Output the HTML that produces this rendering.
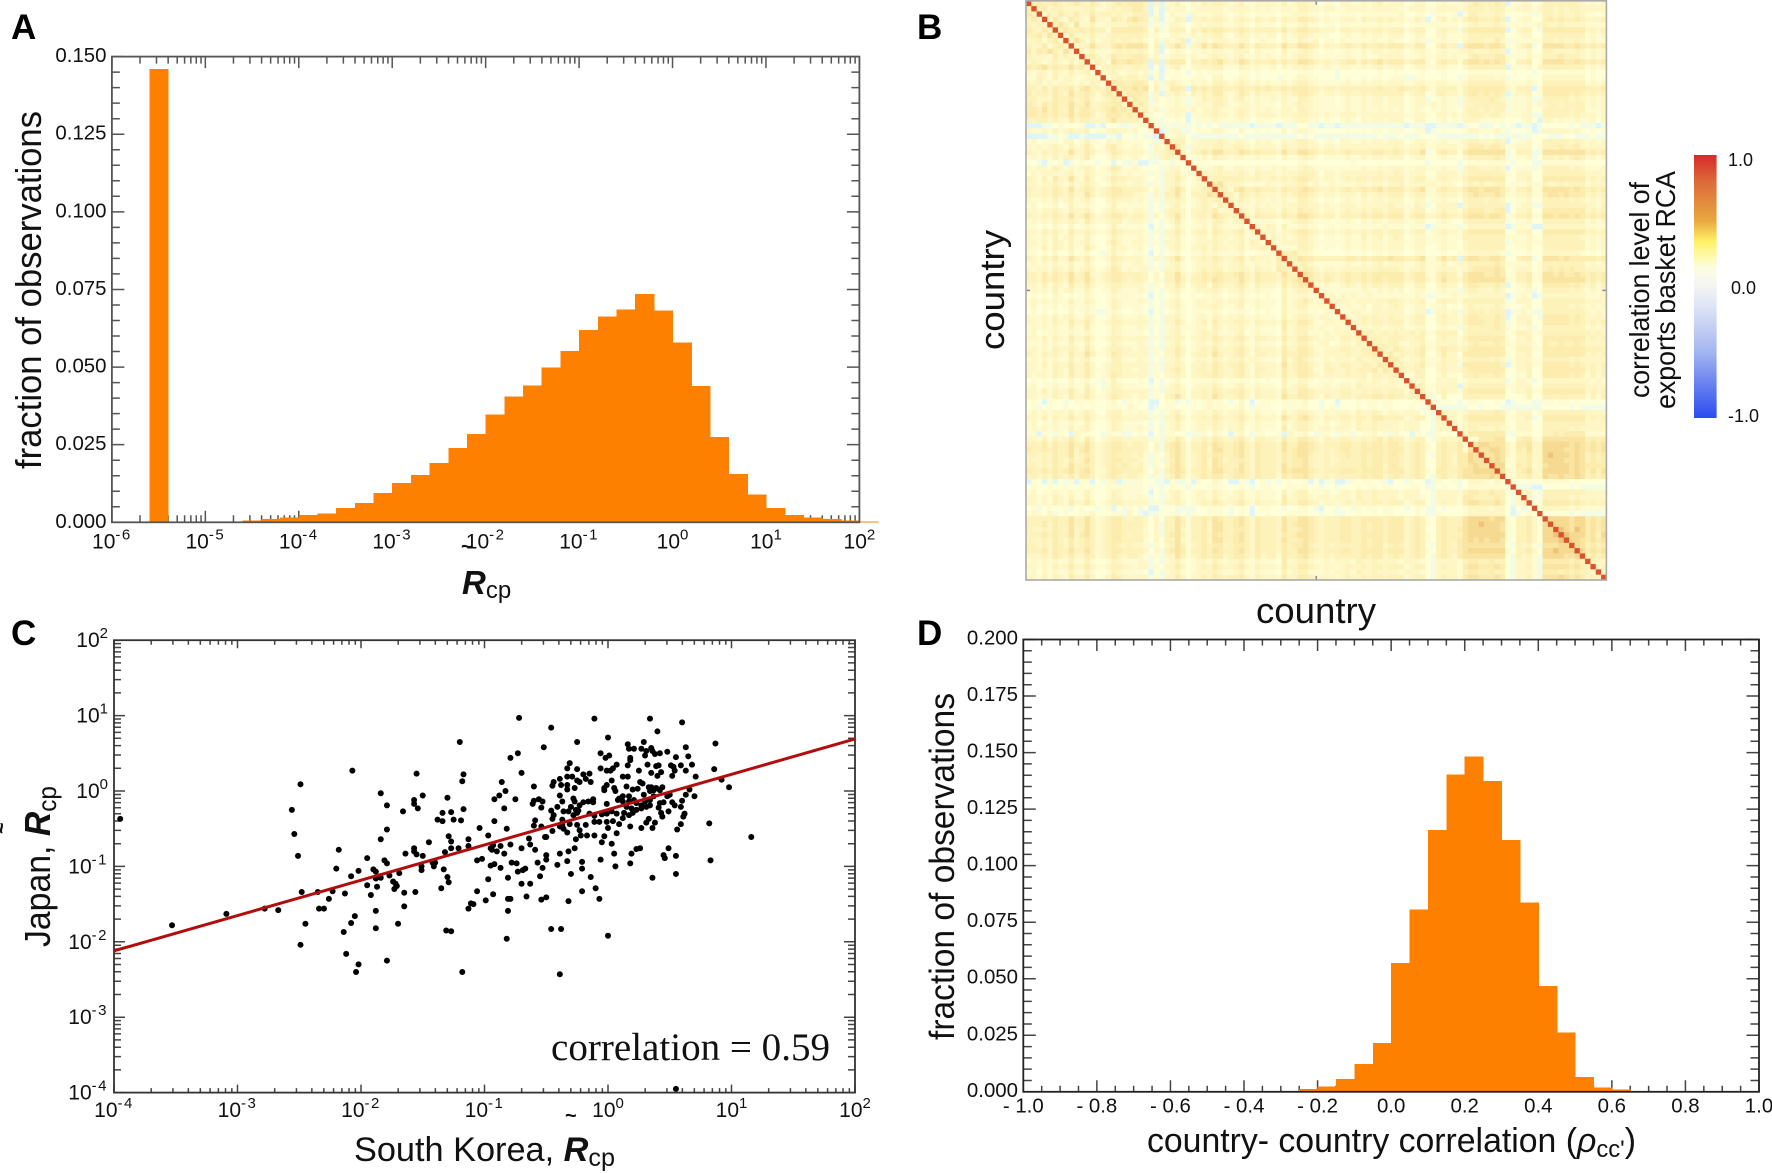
<!DOCTYPE html>
<html lang="en">
<head>
<meta charset="utf-8">
<title>Country export basket correlation figure</title>
<style>
html,body{margin:0;padding:0;background:#fff;}
svg{display:block;}
text{font-family:"Liberation Sans",Arial,sans-serif;fill:#111;}
.panel-letter{font-size:35px;font-weight:bold;fill:#000;}
.rcp{font-weight:bold;font-style:italic;}
</style>
</head>
<body>
<svg id="figure" xmlns="http://www.w3.org/2000/svg" width="1772" height="1173" viewBox="0 0 1772 1173">
  <rect x="0" y="0" width="1772" height="1173" fill="#fff"/>
  <g id="panelA"></g>
  <g id="panelB"></g>
  <g id="panelC"></g>
  <g id="panelD"></g>

  <text class="panel-letter" x="11" y="39">A</text>
  <text class="panel-letter" x="917" y="39">B</text>
  <text class="panel-letter" x="11" y="645">C</text>
  <text class="panel-letter" x="917" y="645">D</text>

  <text transform="translate(41,469) rotate(-90)" font-size="36" textLength="358" lengthAdjust="spacingAndGlyphs">fraction of observations</text>
  <text x="461" y="553" font-size="20" font-weight="bold">~</text>
  <text x="462" y="594" font-size="33"><tspan class="rcp">R</tspan><tspan font-size="24" dy="4">cp</tspan></text>

  <text transform="translate(1004,350) rotate(-90)" font-size="34" textLength="120" lengthAdjust="spacingAndGlyphs">country</text>
  <text x="1256" y="623" font-size="36" textLength="120" lengthAdjust="spacingAndGlyphs">country</text>
  <text transform="translate(1649,398) rotate(-90)" font-size="28" textLength="216" lengthAdjust="spacingAndGlyphs">correlation level of</text>
  <text transform="translate(1675,409) rotate(-90)" font-size="28" textLength="238" lengthAdjust="spacingAndGlyphs">exports basket RCA</text>

  <text transform="translate(50,947) rotate(-90)" font-size="36" textLength="161" lengthAdjust="spacingAndGlyphs">Japan, <tspan class="rcp">R</tspan><tspan font-size="26" dy="6">cp</tspan></text>
  <text transform="translate(8,834) rotate(-90)" font-size="20" font-weight="bold">~</text>
  <text x="565" y="1122" font-size="20" font-weight="bold">~</text>
  <text x="354" y="1161" font-size="34" textLength="261" lengthAdjust="spacingAndGlyphs">South Korea, <tspan class="rcp">R</tspan><tspan font-size="25" dy="5">cp</tspan></text>
  <text x="551" y="1060" font-size="39" style="font-family:'Liberation Serif',serif" textLength="279" lengthAdjust="spacingAndGlyphs">correlation = 0.59</text>

  <text transform="translate(954,1040) rotate(-90)" font-size="35" textLength="347" lengthAdjust="spacingAndGlyphs">fraction of observations</text>
  <text x="1147" y="1152" font-size="34" textLength="489" lengthAdjust="spacingAndGlyphs">country- country correlation (<tspan font-style="italic">ρ</tspan><tspan font-size="24" dy="5">cc'</tspan><tspan dy="-5">)</tspan></text>
</svg>

<script>
// ---------- Panel A data ----------
const rcaBinStartExponent = [-5.6,-5.0,-4.8,-4.6,-4.4,-4.2,-4.0,-3.8,-3.6,-3.4,-3.2,-3.0,-2.8,-2.6,-2.4,-2.2,-2.0,-1.8,-1.6,-1.4,-1.2,-1.0,-0.8,-0.6,-0.4,-0.2,0.0,0.2,0.4,0.6,0.8,1.0,1.2,1.4,1.6,1.8,2.0];
const rcaFraction = [0.146,0.0002,0.0002,0.0005,0.001,0.0015,0.0024,0.0028,0.0046,0.0062,0.0094,0.0126,0.0152,0.0191,0.0239,0.0284,0.0348,0.0406,0.0440,0.0499,0.0552,0.0619,0.0663,0.0685,0.0736,0.0682,0.0579,0.0439,0.0275,0.0155,0.0090,0.0046,0.0023,0.0016,0.0010,0.0005,0.0003];
const rcaXTickExponents = [-6,-5,-4,-3,-2,-1,0,1,2];
const rcaYTickValues = [0,0.025,0.05,0.075,0.1,0.125,0.15];
const rcaYTickLabels = ['0.000','0.025','0.050','0.075','0.100','0.125','0.150'];

// ---------- Panel B data: lower triangle of the correlation matrix, one digit level per cell ----------
const correlationLevelValues = [-0.05,0.03,0.1,0.15,0.2,0.25,0.3,0.35,0.4,0.5];
const diagonalCorrelation = 1.0;
const correlationLowerTriangle = [
"6","65","564","5454","65465","556475","4453564","54463564","646575474","5444364544",
"4543454353 5","6567565575 64","4344354353 453","3354353443 3444","4453434443 43543","5546465564 675546","6455465475 5653565","5544465564 56434565","6546565575 574455664","6657565474 6654567665",
"6656565575 6653466656 5","5455454364 5544457555 54","0001123222 3001022111 333","4334353454 4523345443 4223","0000112100 1000011022 12110","3423332442 3533243433 332313","4343454353 4642356433 4321435","5435454474 4653346544 44314456","3434353553 4632235433 432314544","2210223012 3221220211 3001122122",
"4344354343 4542346533 4322213442 2","3434443453 3543335434 3331314453 33","5435364474 3642346554 4432314464 235","4434454353 4543235443 4431314453 2344","5445465474 5653456655 5542414575 24456","5445465464 4753456655 4431415574 255576","4334353453 4532245444 3431314454 2345455","3423342353 3432235333 3331213453 23454354","4434454354 4532345443 4431214554 244546344","5445465474 5753456654 5541424574 2455476545",
"3434354454 3643345534 4431213463 2344355434 5","3323243242 3432235333 3320212353 2334354333 43","4435454364 4543346544 4431314464 2455365445 634","4334353453 3532235433 3431213453 2344354434 5334","4434354353 4532246433 4431314453 2344454344 53543","4335354353 3642235443 3421213453 2445354434 534454","3323242242 3422135332 3320212342 2334343333 4223333","5435464475 4642346544 4431414574 2445465445 63544436","3434343353 3532235433 4431213453 2344454344 533434355","4344354353 4542346534 3441314453 2345455344 5435443654",
"5546465574 5743456655 5542425574 3456566556 7546555475 5","5546565475 5753456654 5542415575 3556576555 7546555465 67","4435354364 4643345544 4431324464 2455365445 6435444364 566","3434353453 3532335433 3431213453 2344454344 5334333253 4554","2323243232 3432234333 3320212342 2323343233 4323232253 34433","3434343353 3542235433 3431213453 2344344344 5334333253 456434","3423342343 3432235433 3321213453 2344454334 5234333253 4553344","2323232242 3431134322 3320212343 2333343233 3323232253 34433243","4334353453 3542235433 3431214453 2344354344 5334333253 455434433","4434354364 4642345544 4441314464 2345364445 5435444364 4665334434",
"3434343353 3632235433 3431213453 3344354344 5334333263 4554343343 4","3423343343 3432235433 3321213453 2345453334 5234333253 4553334344 43","4435354364 4642345544 4441314454 2445465445 6435544364 4665434435 545","3334343353 3532235433 3431213453 2344354344 5334333253 4554344234 4354","4434354454 3642345544 3441314464 2345464445 6435444364 4665334445 54455","5435454364 4753346544 4441324464 2455475445 6435544365 5665434444 544556","3434343353 4532235533 3431213453 2344354344 5344333263 5654334344 4354454","4435354464 4642345544 4441314454 2445465455 6435444374 5665435445 54455466","4434354364 4643345544 3441314564 2455465445 6435544364 5665335544 545556465","4344354364 4642346544 4441324454 2445565445 6435444364 4665434444 5445355455",
"2323232242 3422135322 2320212342 2333343233 3323232253 3443233323 3344344344 3","3423343343 3532135433 3321213453 2344454334 5334333253 4553334334 4354444444 34","4435354464 3642345544 4441314454 2445465455 6435444364 4665444445 5445455455 535","4434354364 4643346544 3441324574 2445475445 6435444375 5665435445 5455566565 5455","2320322123 3332234213 2320023312 1323433212 4202332233 3342212202 2232332332 22233","2312322322 3232233324 3220123322 2323433323 4213332233 3332212312 2232332332 223213","3434344353 4542245533 3431213453 2344354344 5334333253 4554334344 4354454344 3444221","4435354464 4643345544 4441314464 2445465445 6435444375 4675435445 5455466555 53455215","3423343343 3532235433 3321213453 2344454344 5334333253 4554334234 4354454444 344422144","3434343353 4532235433 3431213453 2344354344 5234333263 4554344344 4354454444 3444221444",
"3303213204 3322133311 2320213322 1133243203 4213322304 3342133213 3123342314 2203211323 2","4435354464 3642345544 4441314464 2445465445 6435544364 4665435445 5445456465 5345521454 44","5556465575 5753456654 5542415675 3556576556 7546555475 5776545556 6556566566 5456532565 563","6556565574 6753456655 5542415675 3556477556 7546555475 6776545456 6556666566 6456532565 5637","5545465574 5653456555 4531324675 3456566556 7546555465 6775445455 6556566566 5456521565 46687","5445465464 5753456655 5431314575 3456476455 6546555465 6675445445 5556566566 5456522565 466877","5545465475 5653456565 4531324675 3456476555 7546555475 6675445455 5556566466 5456522565 4667877","6556565675 6753356655 5532415676 3556577556 7546555476 7776545556 6656666566 6456532665 56778888","5545465464 6653456545 5431314575 3456566456 6546555365 6675445455 5556566456 5456521565 467777787","0320302130 3302134013 1322110311 2032243200 3102312123 2230201300 1323323102 2132201322 3124443243",
"2322322322 3232233333 3321212322 1222333222 3212332223 3332212212 2232332332 2233211232 2123333333 2","3423343343 3532235433 3320213453 2344354334 5334333253 4553334234 4354454444 3444221444 4356655655 21","4434354353 3532235433 3431213453 2344354344 5334333263 4554344344 4354454444 3444321444 4366555565 214","4434354364 4642345544 4441314454 2345465445 6435444364 4665434434 5445455455 5345521454 4367766676 2144","2312322312 3221230213 2120022211 1122333212 3202332212 2332102212 2132332332 2123211212 2234444344 20212","3432412322 3342223314 2101122312 1322333212 3202232223 3332212211 2232232332 2223211322 2234444444 201232","5555565575 5753456654 5542425575 3556576556 7546555475 5776545556 6556666566 6456532565 5578888788 3255642","5556465575 5753456655 5542415575 3556477556 7546555475 6776545556 6556566566 6456532565 5578898887 32556428","5445465474 5753456655 5532415574 3556477556 6546555475 5676545556 6556566566 6456522565 5678888887 325564288","5556565574 6753456654 5542415675 3556576556 7546555465 6776545556 6556666566 6456532565 5578888888 3255642889",
"5445465464 5653456655 5532425574 3556477556 7546555475 5676545556 6556566566 6456532565 5678787887 3255642888 9","5545465464 5653456545 4431324575 3456566456 6546555465 6675445455 5556566456 5456521565 4677777777 2154531777 88","5556465575 5753456655 5542415676 3556576556 7546555465 5776545556 6556666566 6456532565 5678888888 3255642889 888","4445465464 4653456545 5431314475 3456566456 6546455365 5675445455 5556566456 5456521565 4677777777 2154531888 8778","3434343353 3532235433 3431213453 2344354344 5334333263 4554334344 4354454444 3444321444 4356655655 2144431666 66565","4434354464 4643345544 3441324464 2345465445 6435444364 4665434434 5445455455 5345521454 4367766676 2144531777 776765","3424343353 3532235433 3320213453 2344454334 5334333253 4553334344 4354454444 3444321444 4356655655 2144431666 5656544","4435354364 4642346544 4441314464 2445465455 6435444364 4665444434 5445455455 5345521454 4367766676 2144531777 87676454"
];
const colorbarTickLabels = ['1.0','0.0','-1.0'];
const colorbarTickValues = [1,0,-1];

// ---------- Panel C data (log10 of Rcp) ----------
const koreaLogRcp = [-1.20,-2.07,-1.55,-1.17,-2.49,-1.18,-1.84,-1.50,-1.30,-1.57,-1.57,-1.79,-1.54,-1.66,-2.56,-1.34,-1.27,-1.17,-1.38,-1.34,-1.25,-1.19,-2.54,-1.79,-1.84,-1.29,-1.27,-1.13,-1.45,-1.27,-1.21,-1.13,-2.18,-1.57,-1.57,-1.55,-1.64,-1.32,-2.51,-1.50,-1.95,-1.81,-1.79,-1.06,-1.42,-1.40,-1.41,-1.51,-2.20,-1.90,-1.88,-2.02,-1.51,-1.33,-2.08,-1.88,-1.84,-1.77,-1.69,-1.30,-1.74,-1.72,-1.95,-1.29,-1.87,-1.71,-1.73,-1.35,-2.48,-2.35,-2.23,-2.13,-1.65,-1.56,-1.06,-1.92,-2.26,-1.65,-1.11,-1.09,-1.13,-2.78,-2.67,-2.34,-2.30,-1.88,-2.05,-2.08,-2.45,-1.70,-1.88,-2.14,-1.31,-1.27,-2.49,-2.12,-2.02,-1.79,-2.04,-1.18,
-3.95,-3.53,-3.09,0.55,
-0.72,-0.11,0.34,0.60,-0.46,0.40,0.00,-0.25,0.16,0.29,-0.52,0.17,0.21,0.27,0.31,0.35,0.87,0.63,-0.73,-0.06,0.01,-0.02,-0.79,0.30,0.36,0.38,0.42,0.48,0.55,0.65,0.18,0.18,0.07,0.16,0.32,0.39,0.41,0.51,0.53,0.59,0.68,-0.31,-0.33,-0.06,-0.25,-0.01,0.02,0.04,0.25,0.35,0.43,0.54,0.63,0.86,-0.70,-0.20,-0.15,-0.33,-0.29,-0.18,0.12,0.16,0.40,0.52,0.71,-0.39,-0.25,-0.23,-0.14,0.03,-0.86,-0.44,-0.45,-0.38,-0.33,-0.01,-0.03,0.15,0.26,0.28,0.92,0.98,-0.60,-0.33,-0.27,0.05,-0.03,0.06,0.20,0.24,0.33,0.35,0.39,0.44,0.66,-0.83,-0.39,-0.88,-0.92,-0.75,0.63,0.70,-0.60,-0.61,-0.56,-0.53,-0.37,-0.28,-0.27,-0.23,-0.20,-0.16,-0.12,-0.12,0.09,0.12,0.17,0.29,0.34,0.37,0.42,0.48,0.50,0.60,0.52,0.54,0.42,0.45,-0.54,-0.84,-0.41,-0.30,-0.46,-0.36,-0.32,-0.26,-0.24,-0.01,0.08,0.12,0.17,0.21,0.23,0.27,0.30,0.34,0.37,0.41,0.59,0.15,0.19,0.23,0.27,0.31,0.34,0.49,0.43,0.44,0.62,0.61,-0.44,-0.45,-0.59,-0.92,-0.37,-0.28,-0.25,-0.15,-0.11,-0.05,-0.01,0.03,0.07,0.13,0.17,0.20,0.33,0.38,0.31,-0.37,-0.31,-0.25,-0.18,-0.11,-0.07,-0.01,0.04,0.09,0.12,-0.60,-0.54,-0.39,-0.36,-0.23,0.00,0.18,0.27,0.36,0.59,0.82,0.56,-0.82,-1.04,-0.45,-0.33,0.07,-0.97,-0.51,-0.50,-0.26,-0.22,-0.17,-0.11,-0.03,1.16,-0.64,-0.05,0.03,-0.79,-0.63,-0.93,-0.87,-0.95,-0.94,-0.90,-0.70,-0.59,-0.27,-0.32,-0.39,-0.84,0.05,0.19,0.23,0.26,0.49,0.55,0.45,0.46,-0.50,-0.50,-1.02,-0.78,-0.74,-0.57,-0.33,-0.21,-0.06,0.18,0.83,-0.95,-0.92,-0.87,-0.41,-0.53,-0.21,0.06,-0.67,-0.69,-0.73,-0.30,-0.55,-0.81,-0.14,-0.97,0.36,0.55,-0.70,-0.63,-0.10,-0.21,-0.93,-0.66,-0.50,-0.54,-0.99,-0.81,-0.79,-0.07,-0.32,-0.81,-0.46,-0.38,0.00,-0.82,-0.39];
const japanLogRcp = [0.65,0.27,0.23,0.22,0.09,0.13,-0.03,-0.06,-0.09,-0.12,-0.17,-0.19,-0.23,-0.27,-0.25,-0.29,-0.28,-0.24,-0.38,-0.40,-0.38,-0.39,-0.57,-0.51,-0.64,-0.60,-0.67,-0.64,-0.68,-0.76,-0.76,-0.73,-0.78,-0.76,-0.80,-0.84,-0.83,-0.81,-0.86,-0.86,-0.89,-0.92,-0.96,-0.92,-0.95,-0.95,-1.00,-1.00,-1.03,-1.04,-1.07,-1.06,-1.05,-1.04,-1.13,-1.16,-1.15,-1.12,-1.09,-1.14,-1.20,-1.23,-1.25,-1.21,-1.27,-1.26,-1.30,-1.29,-1.34,-1.34,-1.33,-1.36,-1.35,-1.34,-1.33,-1.38,-1.43,-1.53,-1.49,-1.50,-1.56,-1.56,-1.58,-1.56,-1.56,-1.59,-1.66,-1.75,-1.76,-1.76,-1.82,-1.87,-1.85,-1.86,-2.04,-2.16,-2.30,-2.25,-2.40,-2.40,
-0.37,-1.78,-1.63,-3.95,
0.97,0.96,0.96,0.91,0.84,0.79,0.71,0.65,0.62,0.65,0.58,0.56,0.56,0.56,0.53,0.57,0.63,0.58,0.50,0.50,0.47,0.44,0.44,0.47,0.53,0.49,0.50,0.52,0.45,0.46,0.44,0.41,0.35,0.34,0.35,0.33,0.34,0.34,0.32,0.34,0.35,0.37,0.30,0.30,0.29,0.27,0.27,0.30,0.27,0.24,0.25,0.27,0.27,0.29,0.24,0.22,0.23,0.19,0.19,0.16,0.19,0.19,0.20,0.20,0.19,0.16,0.14,0.12,0.12,0.14,0.12,0.12,0.07,0.08,0.08,0.08,0.04,0.06,0.12,0.10,0.15,0.05,0.06,0.02,0.04,0.04,0.01,0.00,0.02,0.03,0.05,0.05,0.04,0.05,0.02,0.00,-0.06,-0.06,-0.11,-0.11,-0.05,-0.07,-0.13,-0.17,-0.11,-0.14,-0.14,-0.10,-0.14,-0.19,-0.15,-0.14,-0.11,-0.15,-0.10,-0.07,-0.07,-0.05,0.00,0.01,0.01,-0.07,-0.05,-0.13,-0.15,-0.19,-0.16,-0.15,-0.22,-0.23,-0.21,-0.21,-0.26,-0.27,-0.27,-0.25,-0.26,-0.17,-0.12,-0.14,-0.14,-0.12,-0.16,-0.19,-0.14,-0.12,-0.07,-0.22,-0.21,-0.21,-0.23,-0.25,-0.23,-0.21,-0.19,-0.27,-0.29,-0.34,-0.30,-0.34,-0.32,-0.37,-0.39,-0.40,-0.38,-0.32,-0.29,-0.30,-0.33,-0.31,-0.30,-0.27,-0.30,-0.29,-0.32,-0.29,-0.37,-0.42,-0.42,-0.45,-0.44,-0.45,-0.45,-0.41,-0.41,-0.41,-0.40,-0.44,-0.36,-0.46,-0.47,-0.47,-0.50,-0.52,-0.49,-0.47,-0.49,-0.49,-0.44,-0.43,-0.51,-0.50,-0.49,-0.53,-0.55,-0.56,-0.59,-0.61,-0.61,-0.64,-0.59,-0.59,-0.59,-0.60,-0.61,-0.63,-0.68,-0.70,-0.71,-0.71,-0.72,-0.73,-0.76,-0.78,-0.80,-0.76,-0.78,-0.76,-0.80,-0.83,-0.83,-0.83,-0.83,-0.77,-0.76,-0.76,-0.86,-0.85,-0.89,-0.85,-0.91,-0.90,-0.95,-0.96,-0.95,-0.93,-0.94,-0.91,-0.96,-0.92,-0.99,-0.97,-1.02,-0.98,-1.02,-1.03,-1.00,-1.03,-1.05,-1.07,-1.10,-1.13,-1.15,-1.14,-1.17,-1.15,-1.10,-1.23,-1.23,-1.29,-1.33,-1.37,-1.40,-1.41,-1.44,-1.45,-1.43,-1.43,-1.43,-1.46,-1.59,-1.83,-1.83,-1.92,-1.96,-2.43];
const fitLineLogX = [-4,2];
const fitLineLogY = [-2.12,0.69];
const scatterXTickExponents = [-4,-3,-2,-1,0,1,2];
const scatterYTickExponents = [-4,-3,-2,-1,0,1,2];

// ---------- Panel D data ----------
const rhoBinStart = [-0.30,-0.25,-0.20,-0.15,-0.10,-0.05,0.00,0.05,0.10,0.15,0.20,0.25,0.30,0.35,0.40,0.45,0.50,0.55,0.60];
const rhoFraction = [0.0002,0.0013,0.0023,0.0057,0.0123,0.0216,0.0570,0.0805,0.1157,0.1402,0.1483,0.1375,0.1113,0.0838,0.0467,0.0262,0.0066,0.0018,0.0011];
const rhoXTickValues = [-1,-0.8,-0.6,-0.4,-0.2,0,0.2,0.4,0.6,0.8,1];
const rhoXTickLabels = ['- 1.0','- 0.8','- 0.6','- 0.4','- 0.2','0.0','0.2','0.4','0.6','0.8','1.0'];
const rhoYTickValues = [0,0.025,0.05,0.075,0.1,0.125,0.15,0.175,0.2];
const rhoYTickLabels = ['0.000','0.025','0.050','0.075','0.100','0.125','0.150','0.175','0.200'];

// ---------- Helpers ----------
const NS = 'http://www.w3.org/2000/svg';
function make(tag, attrs, parent) {
  const n = document.createElementNS(NS, tag);
  for (const k in attrs) n.setAttribute(k, attrs[k]);
  parent.appendChild(n);
  return n;
}
function linear(d0, d1, r0, r1) { return v => r0 + (v - d0) / (d1 - d0) * (r1 - r0); }
function tickPath(segs) { return segs.map(s => 'M' + s[0].toFixed(2) + ' ' + s[1].toFixed(2) + 'L' + s[2].toFixed(2) + ' ' + s[3].toFixed(2)).join(''); }

function addTicks(parent, name, segs, color) {
  const p = make('path', {d: tickPath(segs), stroke: color, 'stroke-width': 1.5, fill: 'none'}, parent);
  
  
}
function addFrame(parent, name, box, color) {
  const r = make('rect', {x: box.l, y: box.t, width: box.r - box.l, height: box.b - box.t, fill: 'none', stroke: color, 'stroke-width': 1.8}, parent);
  
  
}
function widen(t, factor) {
  t.setAttribute('textLength', (t.getComputedTextLength() * factor).toFixed(2));
  t.setAttribute('lengthAdjust', 'spacingAndGlyphs');
}
function addLabel(parent, str, x, y, anchor) {
  const t = make('text', {x: x, y: y, 'font-size': 20, 'text-anchor': anchor}, parent);
  t.textContent = str;
  
  
  widen(t, 1.02);
  return t;
}
function addLogLabel(parent, exp, x, y, anchor) {
  const t = make('text', {x: x, y: y, 'font-size': 21, 'text-anchor': anchor}, parent);
  
  
  const a = make('tspan', {}, t);
  a.textContent = '10';
  const b = make('tspan', {'font-size': 15, dy: -9, 'letter-spacing': exp < 0 ? 1.5 : 0}, t);
  b.textContent = String(exp);
  widen(t, 1.0);
  return t;
}
function logMinors(exps) {
  const out = [];
  for (let i = 0; i < exps.length - 1; i++) for (let m = 2; m < 10; m++) out.push(exps[i] + Math.log10(m));
  return out;
}
function linMinors(lo, hi, step) {
  const out = [];
  const n = Math.round((hi - lo) / step);
  for (let i = 0; i <= n; i++) out.push(lo + i * step);
  return out;
}

// ---------- Panel A ----------
(function () {
  const g = document.getElementById('panelA');
  const box = {l: 111.9, r: 859.4, t: 56.6, b: 522.3};
  const x = linear(-6, 2, box.l, box.r), y = linear(0, 0.15, box.b, box.t);
  const vseg = [], hseg = [];
  rcaXTickExponents.forEach(e => { vseg.push([x(e), box.t, x(e), box.t + 11.5]); vseg.push([x(e), box.b, x(e), box.b - 11.5]); });
  logMinors(rcaXTickExponents).forEach(e => { vseg.push([x(e), box.t, x(e), box.t + 7]); vseg.push([x(e), box.b, x(e), box.b - 7]); });
  rcaYTickValues.forEach(v => { hseg.push([box.l, y(v), box.l + 12.5, y(v)]); hseg.push([box.r, y(v), box.r - 12.5, y(v)]); });
  linMinors(0, 0.15, 0.005).forEach(v => { hseg.push([box.l, y(v), box.l + 8, y(v)]); hseg.push([box.r, y(v), box.r - 8, y(v)]); });
  addTicks(g, 'panel-a-x-ticks', vseg, '#555');
  addTicks(g, 'panel-a-y-ticks', hseg, '#555');
  rcaFraction.forEach((v, i) => {
    const s = rcaBinStartExponent[i];
    const bar = make('rect', {x: x(s), y: y(v), width: x(s + 0.2) - x(s) + 0.6, height: box.b - y(v), fill: '#fe8000', 'shape-rendering': 'crispEdges'}, g);
    
    
  });
  addFrame(g, 'panel-a-frame', box, '#555');
  rcaXTickExponents.forEach(e => addLogLabel(g, e, x(e), 548.4, 'middle'));
  rcaYTickValues.forEach((v, i) => addLabel(g, rcaYTickLabels[i], 106.5, y(v) + 5.5, 'end'));
})();

// ---------- Panel B ----------
const heatStopValues = [-0.05,0.03,0.1,0.15,0.2,0.25,0.3,0.35,0.4,0.5,1.0];
const heatStopColors = ['#dff6f8','#f2fce4','#ffffd8','#fefbd0','#fef6c4','#fdf2ba','#fcecae','#fae4a2','#f6da92','#eec47a','#d9522b'];
(function () {
  const g = document.getElementById('panelB');
  const box = {l: 1026, r: 1606.4, t: 0.8, b: 580};
  const rows = correlationLowerTriangle.map(s => s.replace(/ /g, ''));
  const n = rows.length + 1;
  const x = linear(0, n, box.l, box.r), y = linear(0, n, box.t, box.b);
  function cellValue(i, j) {
    if (i === j) return diagonalCorrelation;
    const r = Math.max(i, j), c = Math.min(i, j);
    const ch = rows[r - 1].charAt(c);
    return correlationLevelValues[ch === '' ? 4 : +ch];
  }
  function color(v) {
    const idx = heatStopValues.findIndex(s => s >= v);
    return heatStopColors[idx < 0 ? heatStopColors.length - 1 : idx];
  }
  for (let i = 0; i < n; i++) {
    for (let j = 0; j < n; j++) {
      const cell = make('rect', {x: x(j), y: y(i), width: x(j + 1) - x(j) + 0.4, height: y(i + 1) - y(i) + 0.4, fill: color(cellValue(i, j))}, g);
      
      
    }
  }
  const midX = (box.l + box.r) / 2, midY = (box.t + box.b) / 2;
  addTicks(g, 'panel-b-ticks', [[midX, box.t, midX, box.t + 4], [midX, box.b, midX, box.b - 4], [box.l, midY, box.l + 4, midY], [box.r, midY, box.r - 4, midY]], '#888');
  const fr = make('rect', {x: box.l, y: box.t, width: box.r - box.l, height: box.b - box.t, fill: 'none', stroke: '#aaa', 'stroke-width': 1.6}, g);
  
  

  const defs = make('defs', {}, g);
  const grad = make('linearGradient', {id: 'cbGrad', x1: 0, y1: 0, x2: 0, y2: 1}, defs);
  const gradOffsets = [0, 0.1, 0.25, 0.33, 0.43, 0.5, 0.58, 0.75, 1];
  const gradColors = ['#d62b2b', '#dc6a3a', '#e9a83f', '#fff266', '#fdfde0', '#f4f4f4', '#dde3f6', '#a3b5f0', '#2a4bf0'];
  gradOffsets.forEach((o, i) => make('stop', {offset: o, 'stop-color': gradColors[i]}, grad));
  const bar = make('rect', {x: 1694, y: 155, width: 22.6, height: 263, fill: 'url(#cbGrad)'}, g);
  
  
  const cy = linear(-1, 1, 416, 160);
  colorbarTickValues.forEach((v, i) => {
    const t = make('text', {x: v === 0 ? 1731 : 1728, y: cy(v) + 6, 'font-size': 18}, g);
    t.textContent = colorbarTickLabels[i];
    
    
  });
})();

// ---------- Panel C ----------
(function () {
  const g = document.getElementById('panelC');
  const box = {l: 114, r: 855, t: 640.2, b: 1092.6};
  const x = linear(-4, 2, box.l, box.r), y = linear(-4, 2, box.b, box.t);
  const vseg = [], hseg = [];
  scatterXTickExponents.forEach(e => { vseg.push([x(e), box.t, x(e), box.t + 8]); vseg.push([x(e), box.b, x(e), box.b - 8]); });
  logMinors(scatterXTickExponents).forEach(e => { vseg.push([x(e), box.t, x(e), box.t + 4.5]); vseg.push([x(e), box.b, x(e), box.b - 4.5]); });
  scatterYTickExponents.forEach(e => { hseg.push([box.l, y(e), box.l + 11, y(e)]); hseg.push([box.r, y(e), box.r - 11, y(e)]); });
  logMinors(scatterYTickExponents).forEach(e => { hseg.push([box.l, y(e), box.l + 7, y(e)]); hseg.push([box.r, y(e), box.r - 7, y(e)]); });
  addTicks(g, 'panel-c-x-ticks', vseg, '#444');
  addTicks(g, 'panel-c-y-ticks', hseg, '#444');
  addFrame(g, 'panel-c-frame', box, '#333');
  koreaLogRcp.forEach((v, i) => {
    const dot = make('circle', {cx: x(v), cy: y(japanLogRcp[i]), r: 3, fill: '#000'}, g);
    
    
  });
  const line = make('line', {x1: x(fitLineLogX[0]), y1: y(fitLineLogY[0]), x2: x(fitLineLogX[1]), y2: y(fitLineLogY[1]), stroke: '#b20d0d', 'stroke-width': 3}, g);
  
  
  scatterXTickExponents.forEach(e => addLogLabel(g, e, x(e), 1117, 'middle'));
  scatterYTickExponents.forEach(e => addLogLabel(g, e, 108, y(e) + 7, 'end'));
})();

// ---------- Panel D ----------
(function () {
  const g = document.getElementById('panelD');
  const box = {l: 1023.3, r: 1759, t: 639.5, b: 1091.8};
  const x = linear(-1, 1, box.l, box.r), y = linear(0, 0.2, box.b, box.t);
  const vseg = [], hseg = [];
  rhoXTickValues.forEach(v => { vseg.push([x(v), box.t, x(v), box.t + 11.5]); vseg.push([x(v), box.b, x(v), box.b - 11.5]); });
  linMinors(-1, 1, 0.05).forEach(v => { vseg.push([x(v), box.t, x(v), box.t + 6]); vseg.push([x(v), box.b, x(v), box.b - 6]); });
  rhoYTickValues.forEach(v => { hseg.push([box.l, y(v), box.l + 12.5, y(v)]); hseg.push([box.r, y(v), box.r - 12.5, y(v)]); });
  linMinors(0, 0.2, 0.005).forEach(v => { hseg.push([box.l, y(v), box.l + 8.5, y(v)]); hseg.push([box.r, y(v), box.r - 8.5, y(v)]); });
  addTicks(g, 'panel-d-x-ticks', vseg, '#444');
  addTicks(g, 'panel-d-y-ticks', hseg, '#444');
  rhoFraction.forEach((v, i) => {
    const s = rhoBinStart[i];
    const bar = make('rect', {x: x(s), y: y(v), width: x(s + 0.05) - x(s) + 0.6, height: box.b - y(v), fill: '#fe8000', 'shape-rendering': 'crispEdges'}, g);
    
    
  });
  addFrame(g, 'panel-d-frame', box, '#222');
  rhoXTickValues.forEach((v, i) => addLabel(g, rhoXTickLabels[i], x(v), 1112.6, 'middle'));
  rhoYTickValues.forEach((v, i) => addLabel(g, rhoYTickLabels[i], 1018, y(v) + 5, 'end'));
})();
</script>
</body>
</html>
